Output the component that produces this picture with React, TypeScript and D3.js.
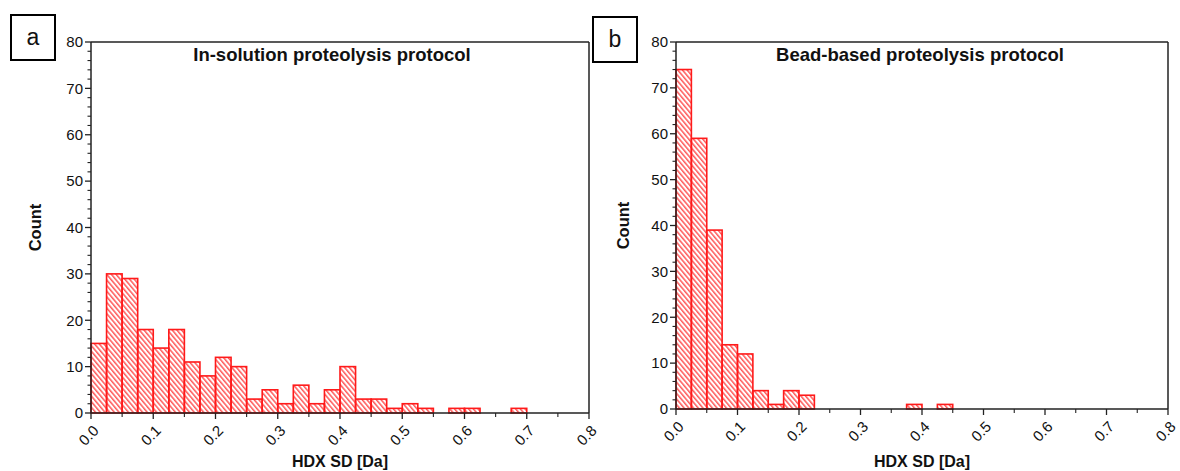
import React from "react";
import * as d3 from "d3";

const binWidth = 0.025;
const countsA = [15, 30, 29, 18, 14, 18, 11, 8, 12, 10, 3, 5, 2, 6, 2, 5, 10, 3, 3, 1, 2, 1, 0, 1, 1, 0, 0, 1, 0, 0, 0, 0];
const countsB = [74, 59, 39, 14, 12, 4, 1, 4, 3, 0, 0, 0, 0, 0, 0, 1, 0, 1, 0, 0, 0, 0, 0, 0, 0, 0, 0, 0, 0, 0, 0, 0];
const xTicks = [0, 0.1, 0.2, 0.3, 0.4, 0.5, 0.6, 0.7, 0.8];
const yTicks = [0, 10, 20, 30, 40, 50, 60, 70, 80];
const titles = ["In-solution proteolysis protocol", "Bead-based proteolysis protocol"];
const panelLetters = ["a", "b"];

const FONT = "Liberation Sans, Arial, sans-serif";
const AXIS = "#222";
const RED = "#ff1a1a";

type PanelProps = {
  counts: number[];
  title: string;
  letter: string;
  left: number;
  right: number;
  top: number;
  bottom: number;
  box: [number, number];
  countX: number;
  titleX: number;
  idx: number;
};

function Panel({ counts, title, letter, left, right, top, bottom, box, countX, titleX, idx }: PanelProps) {
  const x = d3.scaleLinear().domain([0, 0.8]).range([left, right]);
  const y = d3.scaleLinear().domain([0, 80]).range([bottom, top]);
  const minorY = d3.range(0, 81, 2).filter((v) => v % 10 !== 0);
  const minorX = d3.range(0.05, 0.8, 0.1);
  const pid = `hatch${idx}`;
  return (
    <g>
      <defs>
        <pattern id={pid} patternUnits="userSpaceOnUse" width={8} height={3.6} patternTransform="rotate(50)">
          <line x1={0} y1={1} x2={8} y2={1} stroke={RED} strokeWidth={1.1} />
        </pattern>
      </defs>
      {counts.map((c, i) =>
        c > 0 ? (
          <rect
            key={i}
            x={x(i * binWidth)}
            y={y(c)}
            width={x((i + 1) * binWidth) - x(i * binWidth)}
            height={y(0) - y(c)}
            fill={`url(#${pid})`}
            stroke={RED}
            strokeWidth={1.6}
          />
        ) : null
      )}
      <line x1={left} y1={top} x2={right} y2={top} stroke={AXIS} strokeWidth={1.5} />
      <line x1={right} y1={top} x2={right} y2={bottom} stroke={AXIS} strokeWidth={1.5} />
      <line x1={left} y1={top} x2={left} y2={bottom} stroke={AXIS} strokeWidth={1.5} />
      <line x1={left} y1={bottom} x2={right} y2={bottom} stroke={AXIS} strokeWidth={1.5} />
      {yTicks.map((t) => (
        <g key={t}>
          <line x1={left - 6} x2={left} y1={y(t)} y2={y(t)} stroke={AXIS} strokeWidth={1.3} />
          <text x={left - 8} y={y(t)} dy="0.35em" textAnchor="end" fontSize={15} fontFamily={FONT} fill="#111">
            {t}
          </text>
        </g>
      ))}
      {minorY.map((t) => (
        <line key={t} x1={left - 3.5} x2={left} y1={y(t)} y2={y(t)} stroke={AXIS} strokeWidth={1.1} />
      ))}
      {xTicks.map((t) => (
        <g key={t}>
          <line x1={x(t)} x2={x(t)} y1={bottom} y2={bottom + 6} stroke={AXIS} strokeWidth={1.3} />
          <text
            transform={`translate(${x(t) + 5},${bottom + 15}) rotate(-45)`}
            textAnchor="end"
            dy="0.35em"
            fontSize={15}
            fontFamily={FONT}
            fill="#111"
          >
            {t.toFixed(1)}
          </text>
        </g>
      ))}
      {minorX.map((t) => (
        <line key={t} x1={x(t)} x2={x(t)} y1={bottom} y2={bottom + 4} stroke={AXIS} strokeWidth={1.1} />
      ))}
      <text x={titleX} y={61} textAnchor="middle" fontSize={18.5} fontWeight="bold" fontFamily={FONT} fill="#111">
        {title}
      </text>
      <text x={(left + right) / 2} y={467} textAnchor="middle" fontSize={16} fontWeight="bold" fontFamily={FONT} fill="#111">
        HDX SD [Da]
      </text>
      <text
        transform={`translate(${countX},${(top + bottom) / 2}) rotate(-90)`}
        textAnchor="middle"
        fontSize={16.5}
        fontWeight="bold"
        fontFamily={FONT}
        fill="#111"
      >
        Count
      </text>
      <rect x={box[0]} y={box[1]} width={44} height={45} fill="white" stroke="#000" strokeWidth={2} />
      <text x={box[0] + 22} y={box[1] + 22} dy="0.35em" textAnchor="middle" fontSize={23} fontFamily={FONT} fill="#111">
        {letter}
      </text>
    </g>
  );
}

export default function App() {
  return (
    <svg width={1180} height={471} style={{ position: "absolute", left: 0, top: 0, background: "white" }}>
      <rect width={1180} height={471} fill="white" />
      <Panel counts={countsA} title={titles[0]} letter={panelLetters[0]} left={91} right={589} top={42} bottom={413} box={[11, 15]} countX={41} titleX={332} idx={0} />
      <Panel counts={countsB} title={titles[1]} letter={panelLetters[1]} left={676} right={1168} top={42} bottom={409} box={[593, 17]} countX={629} titleX={920} idx={1} />
    </svg>
  );
}
